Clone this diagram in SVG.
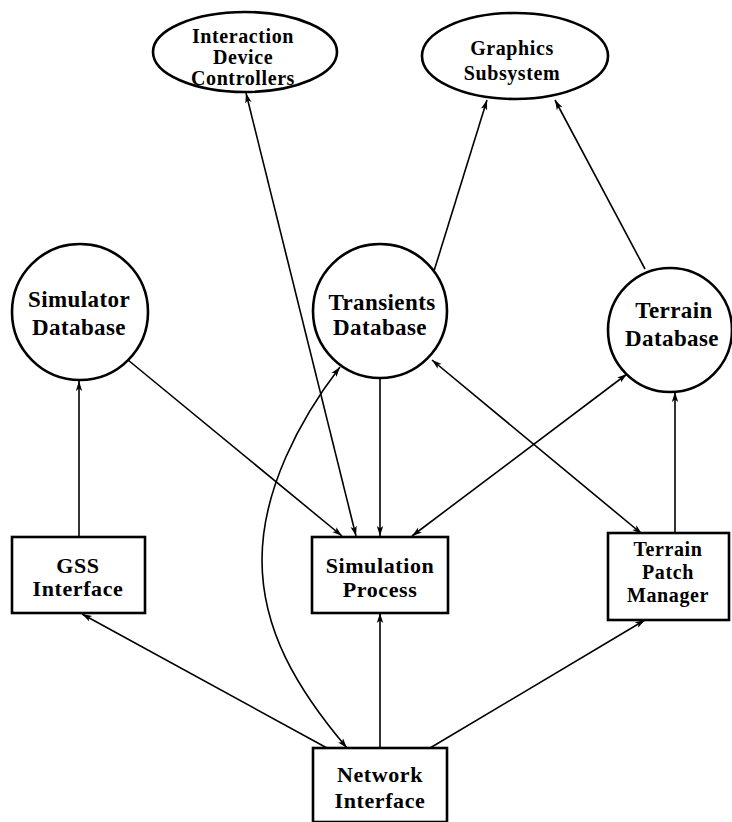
<svg xmlns="http://www.w3.org/2000/svg" width="732" height="822" viewBox="0 0 732 822">
<defs>
<style>
.shape{fill:#fff;stroke:#000;stroke-width:2.6}
.t{font-family:"Liberation Serif","Times New Roman",serif;font-weight:bold;text-anchor:middle;fill:#000}
.e{font-size:20px;letter-spacing:0.6px}
.c{font-size:23px;letter-spacing:0.4px}
.b{font-size:22px;letter-spacing:0.6px}
.s{font-size:20px;letter-spacing:0.6px}
.ln{fill:none;stroke:#000;stroke-width:1.6}
</style>
<marker id="ah" viewBox="0 0 10 8" refX="10" refY="4" markerWidth="10" markerHeight="8" markerUnits="userSpaceOnUse" orient="auto-start-reverse">
<path d="M0,0.8 L10,4 L0,7.2 L2.5,4 Z" fill="#000"/>
</marker>
</defs>
<rect width="732" height="822" fill="#fff"/>
<g id="connectors">
<line class="ln" x1="246" y1="93" x2="356" y2="536" marker-start="url(#ah)" marker-end="url(#ah)"/>
<line class="ln" x1="434" y1="271" x2="487" y2="100" marker-end="url(#ah)"/>
<line class="ln" x1="645" y1="269" x2="555" y2="100" marker-end="url(#ah)"/>
<line class="ln" x1="79" y1="537" x2="79" y2="381" marker-end="url(#ah)"/>
<line class="ln" x1="128" y1="360" x2="342" y2="536" marker-end="url(#ah)"/>
<line class="ln" x1="380" y1="378" x2="380" y2="536" marker-end="url(#ah)"/>
<line class="ln" x1="432" y1="360" x2="642" y2="534" marker-start="url(#ah)" marker-end="url(#ah)"/>
<line class="ln" x1="627" y1="374" x2="412" y2="536" marker-start="url(#ah)" marker-end="url(#ah)"/>
<line class="ln" x1="675" y1="533" x2="675" y2="392" marker-end="url(#ah)"/>
<path class="ln" d="M340,367 C300,419 262,490 262,560 C262,630 297,689 347,748" marker-start="url(#ah)" marker-end="url(#ah)"/>
<line class="ln" x1="327" y1="748" x2="82" y2="614" marker-end="url(#ah)"/>
<line class="ln" x1="380" y1="748" x2="380" y2="613" marker-end="url(#ah)"/>
<line class="ln" x1="430" y1="748" x2="645" y2="620" marker-end="url(#ah)"/>
</g>
<g id="interaction">
<ellipse class="shape" cx="245" cy="52" rx="92" ry="40"/>
<text class="t e" x="243" y="43">Interaction</text>
<text class="t e" x="243" y="64">Device</text>
<text class="t e" x="243" y="85">Controllers</text>
</g>
<g id="graphics">
<ellipse class="shape" cx="515" cy="56" rx="93" ry="43"/>
<text class="t e" x="512" y="55">Graphics</text>
<text class="t e" x="512" y="80">Subsystem</text>
</g>
<g id="simulator-db">
<circle class="shape" cx="80" cy="312" r="68"/>
<text class="t c" x="79" y="307">Simulator</text>
<text class="t c" x="79" y="335">Database</text>
</g>
<g id="transients-db">
<circle class="shape" cx="380" cy="311" r="67"/>
<text class="t c" x="382" y="310">Transients</text>
<text class="t c" x="380" y="335">Database</text>
</g>
<g id="terrain-db">
<circle class="shape" cx="670" cy="330" r="62"/>
<text class="t c" x="674" y="318">Terrain</text>
<text class="t c" x="672" y="346">Database</text>
</g>
<g id="gss">
<rect class="shape" x="12" y="537" width="133" height="76"/>
<text class="t b" x="78" y="573">GSS</text>
<text class="t b" x="78" y="596">Interface</text>
</g>
<g id="simulation">
<rect class="shape" x="312" y="537" width="136" height="76"/>
<text class="t b" x="380" y="573">Simulation</text>
<text class="t b" x="380" y="597">Process</text>
</g>
<g id="terrain-patch">
<rect class="shape" x="608" y="533" width="121" height="87"/>
<text class="t s" x="668" y="556">Terrain</text>
<text class="t s" x="668" y="579">Patch</text>
<text class="t s" x="668" y="602">Manager</text>
</g>
<g id="network">
<rect class="shape" x="313" y="748" width="134" height="74"/>
<text class="t b" x="380" y="782">Network</text>
<text class="t b" x="380" y="808">Interface</text>
</g>
</svg>
